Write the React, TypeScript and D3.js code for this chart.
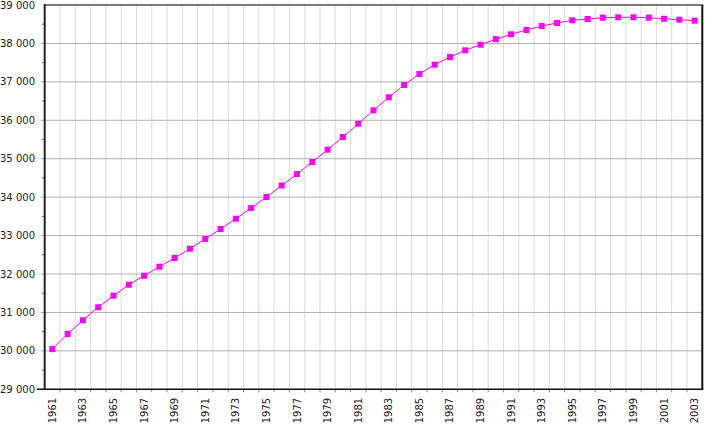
import React from 'react';
import * as d3 from 'd3';

// population, thousands
const years: number[] = d3.range(1961, 2004);
const population: number[] = [
  30045, 30440, 30795, 31135, 31436, 31722, 31956, 32190, 32417, 32659,
  32911, 33171, 33439, 33718, 34004, 34303, 34602, 34915, 35235, 35565,
  35911, 36260, 36598, 36918, 37205, 37447, 37647, 37821, 37967, 38112,
  38238, 38350, 38454, 38532, 38602, 38636, 38670, 38680, 38680, 38670,
  38643, 38618, 38592,
];
const yTicks: number[] = d3.range(29000, 39001, 1000);
const yMinorTicks: number[] = d3.range(29500, 39000, 1000);
const xLabelYears: number[] = years.filter((y) => (y - 1961) % 2 === 0);

const W = 725;
const H = 426;
const margin = { left: 44.7, right: 22.7, top: 5, bottom: 36.7 };

const fmt = d3.formatLocale({ decimal: ',', thousands: ' ', grouping: [3], currency: ['', ''] }).format(',');

const App = () => {
  const x = d3.scaleBand<number>()
    .domain(years)
    .range([margin.left, W - margin.right])
    .padding(0);
  const y = d3.scaleLinear()
    .domain([29000, 39000])
    .range([H - margin.bottom, margin.top]);

  const cx = (yr: number) => (x(yr) as number) + x.bandwidth() / 2;
  const x0 = margin.left;
  const x1 = W - margin.right;
  const y0 = H - margin.bottom;
  const y1 = margin.top;

  const line = d3.line<number>()
    .x((_, i) => cx(years[i]))
    .y((d) => y(d));

  const boundaries = years.slice(1).map((yr) => x(yr) as number);

  return (
    <svg width={W} height={H} style={{ position: 'absolute', left: 0, top: 0, fontFamily: 'DejaVu Sans' }}>
      <rect width={W} height={H} fill="#fff" />
      {/* vertical grid */}
      {boundaries.map((bx, i) => (
        <line key={'v' + i} x1={bx} x2={bx} y1={y1} y2={y0} stroke="#dcdcdc" strokeWidth={1} />
      ))}
      {/* horizontal grid */}
      {yTicks.slice(1, -1).map((t) => (
        <line key={'h' + t} x1={x0 - 4} x2={x1} y1={y(t)} y2={y(t)} stroke="#b0b0b0" strokeWidth={1} />
      ))}
      {/* minor ticks */}
      {yMinorTicks.map((t) => (
        <line key={'m' + t} x1={x0 - 3} x2={x0 + 1} y1={y(t)} y2={y(t)} stroke="#777" strokeWidth={1} />
      ))}
      {/* bottom ticks */}
      {boundaries.map((bx, i) => (
        <line key={'bt' + i} x1={bx} x2={bx} y1={y0} y2={y0 + 3} stroke="#888" strokeWidth={1} />
      ))}
      {/* frame */}
      <line x1={x0} x2={x1 + 1} y1={y1} y2={y1} stroke="#7a7a7a" strokeWidth={2} />
      <line x1={x1} x2={x1} y1={y1} y2={y0} stroke="#111" strokeWidth={2} />
      <line x1={x0 - 8} x2={x1 + 1} y1={y0} y2={y0} stroke="#111" strokeWidth={1.5} />
      <line x1={x0} x2={x0} y1={y1 - 1} y2={y0} stroke="#222" strokeWidth={2} />
      {/* y labels */}
      {yTicks.map((t) => (
        <text key={'yl' + t} x={35} y={y(t)} dy="0.35em" textAnchor="end" fontSize={10} fill="#222">
          {fmt(t)}
        </text>
      ))}
      {/* x labels */}
      {xLabelYears.map((yr) => (
        <text
          key={'xl' + yr}
          transform={`translate(${cx(yr)},${y0 + 8.5}) rotate(-90)`}
          dy="0.35em"
          textAnchor="end"
          fontSize={10}
          fill="#222"
        >
          {yr}
        </text>
      ))}
      {/* series */}
      <path d={line(population) || ''} fill="none" stroke="#ff00ff" strokeWidth={1} />
      {population.map((v, i) => (
        <rect key={'p' + i} x={cx(years[i]) - 3} y={y(v) - 3} width={6} height={6} fill="#ff00ff" />
      ))}
    </svg>
  );
};

export default App;
